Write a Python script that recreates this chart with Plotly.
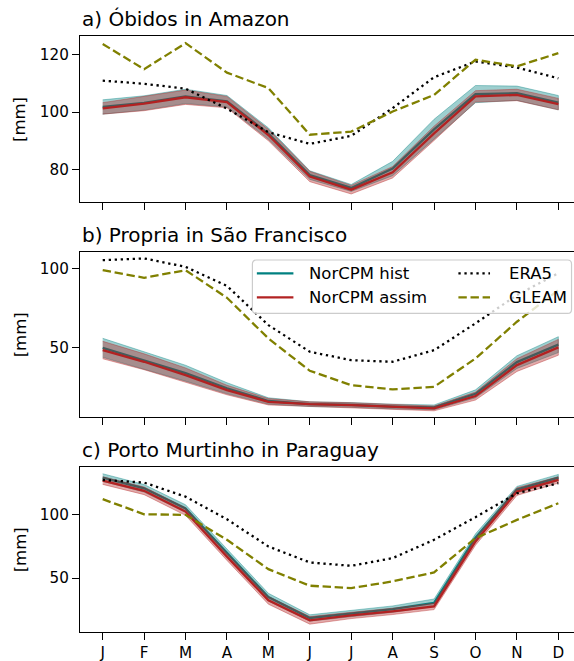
import plotly.graph_objects as go
from plotly.subplots import make_subplots

# Monthly climatology (mm) for three river stations
months = ["J", "F", "M", "A", "M", "J", "J", "A", "S", "O", "N", "D"]
month_idx = list(range(12))

titles = ["a) Óbidos in Amazon", "b) Propria in São Francisco", "c) Porto Murtinho in Paraguay"]

# a) Óbidos
hist_a = [101.8, 103.2, 105.5, 103.8, 92.5, 78.0, 73.5, 80.3, 94.0, 106.3, 106.6, 103.3]
hist_a_sd = [2.5, 2.5, 2.5, 2.0, 2.0, 1.5, 1.2, 2.5, 3.5, 3.0, 2.5, 2.5]
assim_a = [101.3, 103.0, 105.2, 103.5, 92.0, 77.5, 72.9, 79.0, 92.6, 105.5, 106.0, 102.8]
assim_a_sd = [2.0, 2.5, 2.5, 2.0, 2.0, 1.8, 1.5, 2.0, 2.5, 2.0, 2.0, 2.0]
era5_a = [111.0, 109.9, 108.2, 101.2, 93.0, 88.9, 91.7, 101.4, 112.2, 117.7, 115.6, 111.8]
gleam_a = [123.8, 115.0, 124.1, 113.8, 108.4, 92.1, 93.2, 100.2, 106.0, 118.3, 116.0, 120.6]

# b) Propria
hist_b = [50.0, 42.0, 34.0, 24.5, 16.5, 14.5, 14.0, 13.0, 12.5, 21.0, 41.0, 52.0]
hist_b_sd = [6.0, 5.5, 5.0, 3.5, 2.0, 1.5, 1.5, 1.5, 1.5, 2.5, 4.0, 5.0]
assim_b = [48.6, 41.2, 32.8, 23.4, 16.0, 14.5, 13.9, 12.8, 11.8, 19.6, 39.1, 50.3]
assim_b_sd = [5.5, 5.0, 4.5, 3.0, 2.0, 1.5, 1.5, 1.5, 1.5, 2.5, 4.0, 5.0]
era5_b = [105.2, 106.3, 101.0, 89.0, 64.3, 47.5, 42.2, 41.2, 48.5, 65.4, 83.2, 97.0]
gleam_b = [98.9, 94.1, 98.9, 81.5, 55.9, 35.5, 26.5, 23.8, 25.4, 43.3, 66.4, 86.3]

# c) Porto Murtinho
hist_c = [129.5, 121.0, 105.0, 70.0, 35.0, 18.5, 22.0, 25.5, 30.5, 82.0, 120.0, 129.5]
hist_c_sd = [3.0, 3.0, 3.0, 3.0, 3.0, 2.5, 2.5, 2.5, 3.0, 3.0, 2.5, 2.5]
assim_c = [127.1, 119.0, 102.6, 67.0, 32.4, 16.6, 20.5, 23.7, 27.6, 79.0, 118.4, 127.6]
assim_c_sd = [3.0, 3.0, 3.0, 3.0, 3.0, 3.0, 2.5, 2.5, 2.5, 3.0, 3.0, 2.5]
era5_c = [127.6, 125.5, 114.4, 96.5, 75.0, 62.4, 59.7, 65.8, 80.3, 98.2, 117.1, 125.0]
gleam_c = [112.4, 100.5, 100.0, 80.3, 57.1, 44.0, 42.1, 47.4, 54.5, 81.6, 96.0, 109.2]

panels = [
    (hist_a, hist_a_sd, assim_a, assim_a_sd, era5_a, gleam_a),
    (hist_b, hist_b_sd, assim_b, assim_b_sd, era5_b, gleam_b),
    (hist_c, hist_c_sd, assim_c, assim_c_sd, era5_c, gleam_c),
]
y_ranges = [[68.6, 126.6], [6.4, 110.5], [7.4, 138.1]]
y_ticks = [[80, 100, 120], [50, 100], [50, 100]]
y_domains = [[0.7215, 1.0], [0.3607, 0.638], [0.0, 0.2774]]

TEAL = "#008080"
RED = "#b22222"
TEAL_FILL = "rgba(0,128,128,0.38)"
RED_FILL = "rgba(178,34,34,0.38)"
OLIVE = "#808000"
FONT = "DejaVu Sans"

fig = make_subplots(rows=3, cols=1)


def band(mean, sd, fill, row):
    upper = [m + s for m, s in zip(mean, sd)]
    lower = [m - s for m, s in zip(mean, sd)]
    fig.add_trace(go.Scatter(
        x=month_idx + month_idx[::-1], y=upper + lower[::-1],
        fill="toself", fillcolor=fill, mode="lines",
        line=dict(color=fill, width=1), hoverinfo="skip", showlegend=False,
    ), row=row, col=1)


for i, (h, hsd, a, asd, e, g) in enumerate(panels):
    r = i + 1
    band(h, hsd, TEAL_FILL, r)
    fig.add_trace(go.Scatter(x=month_idx, y=h, mode="lines", line=dict(color=TEAL, width=2.3),
                             name="NorCPM hist", showlegend=False), row=r, col=1)
    band(a, asd, RED_FILL, r)
    fig.add_trace(go.Scatter(x=month_idx, y=a, mode="lines", line=dict(color=RED, width=2.3),
                             name="NorCPM assim", showlegend=False), row=r, col=1)
    fig.add_trace(go.Scatter(x=month_idx, y=e, mode="lines",
                             line=dict(color="black", width=2.3, dash="2.3px,3.7px"),
                             name="ERA5", showlegend=False), row=r, col=1)
    fig.add_trace(go.Scatter(x=month_idx, y=g, mode="lines",
                             line=dict(color=OLIVE, width=2.3, dash="8.4px,3.7px"),
                             name="GLEAM", showlegend=False), row=r, col=1)

    xa = "xaxis" if r == 1 else f"xaxis{r}"
    ya = "yaxis" if r == 1 else f"yaxis{r}"
    fig.layout[xa].update(
        domain=[0, 1], range=[-0.548, 11.378], tickmode="array", tickvals=month_idx,
        ticktext=months, showticklabels=(r == 3), ticks="outside", ticklen=7, tickwidth=1.2,
        tickcolor="black", showline=True, linecolor="black", linewidth=1.2, mirror=True,
        showgrid=False, zeroline=False, tickfont=dict(family=FONT, size=15.2, color="black"),
    )
    fig.layout[ya].update(
        domain=y_domains[i], range=y_ranges[i], tickmode="array", tickvals=y_ticks[i],
        ticks="outside", ticklen=7, tickwidth=1.2, tickcolor="black", showline=True,
        linecolor="black", linewidth=1.2, mirror=False, showgrid=False, zeroline=False,
        tickfont=dict(family=FONT, size=15.2, color="black"),
    )
    yd = "y domain" if r == 1 else f"y{r} domain"
    # panel title
    fig.add_annotation(text=titles[i], xref="paper", x=0, xanchor="left",
                       yref=yd, y=1, yanchor="bottom", yshift=3, showarrow=False,
                       font=dict(family=FONT, size=20, color="black"))
    # y-axis label
    fig.add_annotation(text="[mm]", xref="paper", x=-0.1215, xanchor="center",
                       yref=yd, y=0.5, yanchor="middle", textangle=-90, showarrow=False,
                       font=dict(family=FONT, size=16.5, color="black"))

# Legend box inside panel b
x0, x1, y0, y1 = 0.349, 0.995, 0.627, 0.950
rx, ry = 0.008, 0.024
path = (f"M {x0+rx},{y0} L {x1-rx},{y0} Q {x1},{y0} {x1},{y0+ry} L {x1},{y1-ry} "
        f"Q {x1},{y1} {x1-rx},{y1} L {x0+rx},{y1} Q {x0},{y1} {x0},{y1-ry} "
        f"L {x0},{y0+ry} Q {x0},{y0} {x0+rx},{y0} Z")
fig.add_shape(type="path", path=path, xref="x2 domain", yref="y2 domain",
              fillcolor="rgba(255,255,255,0.8)", line=dict(color="#cccccc", width=1.2))

legend_items = [
    ("NorCPM hist", TEAL, "solid", 0.358, 0.432, 0.459, 0.869),
    ("NorCPM assim", RED, "solid", 0.358, 0.432, 0.459, 0.724),
    ("ERA5", "black", "2.3px,3.7px", 0.766, 0.830, 0.864, 0.869),
    ("GLEAM", OLIVE, "8.4px,3.7px", 0.766, 0.830, 0.864, 0.724),
]
for name, color, dash, lx0, lx1, tx, ly in legend_items:
    fig.add_shape(type="line", xref="x2 domain", yref="y2 domain", x0=lx0, x1=lx1, y0=ly, y1=ly,
                  line=dict(color=color, width=2.3, dash=dash))
    fig.add_annotation(text=name, xref="x2 domain", yref="y2 domain", x=tx, y=ly,
                       xanchor="left", yanchor="middle", showarrow=False,
                       font=dict(family=FONT, size=16.5, color="black"))

fig.update_layout(
    width=574, height=661, margin=dict(l=80, r=0, t=36, b=29),
    paper_bgcolor="white", plot_bgcolor="white", showlegend=False,
    font=dict(family=FONT, color="black"),
)

fig.write_html("out.html")
